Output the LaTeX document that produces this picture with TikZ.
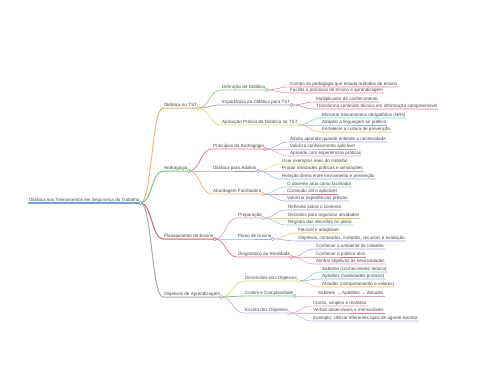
\documentclass[tikz,border=0pt]{standalone}
\usepackage{fontspec}
\setmainfont{Liberation Sans}
\usepackage{xcolor}
\usepackage{tikz}
\usetikzlibrary{calc}

\definecolor{cblue}{HTML}{6CA6E0}
\definecolor{corange}{HTML}{F5B076}
\definecolor{cgreen}{HTML}{7DC77D}
\definecolor{cbrick}{HTML}{C0696E}
\definecolor{cgray}{HTML}{ABABAB}
\definecolor{clime}{HTML}{98D28A}
\definecolor{cmauve}{HTML}{A89AB6}
\definecolor{cyellow}{HTML}{DCE27A}
\definecolor{cpink}{HTML}{E8899B}
\definecolor{crose}{HTML}{D67CA0}
\definecolor{ccyan}{HTML}{7FD6D6}
\definecolor{csky}{HTML}{8FB4E8}
\definecolor{cpeach}{HTML}{F5B96B}
\definecolor{cred}{HTML}{E07A8A}
\definecolor{cviolet}{HTML}{B8A0E0}
\definecolor{cblush}{HTML}{E8A0C8}
\definecolor{cteal}{HTML}{8CD0B8}
\definecolor{clavender}{HTML}{C4B8E0}

% curve from a parent knot to a child, then the child's underline
\newcommand{\conn}[3]{\draw[#3] let \p1=(#1.south east), \p2=(#2.south west) in
  (\p1) .. controls ({(\x1+\x2)/2},\y1) and ({(\x1+\x2)/2},\y2) .. (\p2) -- (#2.south east);}
\newcommand{\knot}[2]{\draw[#2,fill=white,line width=0.6pt] (#1.south east) circle (1.7pt);}

\begin{document}
\begin{tikzpicture}[x=1pt,y=-1pt,
  lbl/.style={anchor=south west,inner xsep=1pt,inner ysep=0.4pt,text depth=1.1pt,
    text=black!72,font=\fontsize{4.55}{5.5}\selectfont},
  e1/.style={line width=1pt},
  e2/.style={line width=0.75pt},
  e3/.style={line width=0.55pt}]
  \useasboundingbox (0,0) rectangle (480,384);

  % root and main branches
  \node[lbl] (root) at (28,203) {Didática nos Treinamentos em Segurança do Trabalho};
  \node[lbl] (dtst) at (163,108) {Didática no TST};
  \node[lbl] (andr) at (163,171) {Andragogia};
  \node[lbl] (plan) at (163,239) {Planejamento do Ensino};
  \node[lbl] (obj) at (163,297) {Objetivos de Aprendizagem};

  % Didática no TST
  \node[lbl] (def) at (221,90) {Definição de Didática};
  \node[lbl] (imp) at (221,105) {Importância da Didática para TST};
  \node[lbl] (apl) at (221,125) {Aplicação Prática da Didática no TST};
  \node[lbl] (def1) at (289,87) {Campo da pedagogia que estuda métodos de ensino};
  \node[lbl] (def2) at (289,93) {Facilita o processo de ensino e aprendizagem};
  \node[lbl] (imp1) at (315,102) {Multiplicador de conhecimento};
  \node[lbl] (imp2) at (315,109) {Transforma conteúdo técnico em informação compreensível};
  \node[lbl] (apl1) at (321,118) {Ministrar treinamentos obrigatórios (NRs)};
  \node[lbl] (apl2) at (321,125) {Adaptar a linguagem ao público};
  \node[lbl] (apl3) at (321,132) {Fortalecer a cultura de prevenção};

  % Andragogia
  \node[lbl] (pri) at (212,149) {Princípios da Andragogia};
  \node[lbl] (dad) at (212,171) {Didática para Adultos};
  \node[lbl] (abo) at (212,194) {Abordagem Facilitadora};
  \node[lbl] (pri1) at (289,142) {Adulto aprende quando entende a necessidade};
  \node[lbl] (pri2) at (289,149) {Valoriza conhecimento aplicável};
  \node[lbl] (pri3) at (289,156) {Aprende com experiências práticas};
  \node[lbl] (dad1) at (281,164) {Usar exemplos reais do trabalho};
  \node[lbl] (dad2) at (281,171) {Propor atividades práticas e simulações};
  \node[lbl] (dad3) at (281,179) {Relação direta entre treinamento e prevenção};
  \node[lbl] (abo1) at (286,187) {O docente atua como facilitador};
  \node[lbl] (abo2) at (286,194) {Conteúdo útil e aplicável};
  \node[lbl] (abo3) at (286,201) {Valorizar experiências prévias};

  % Planejamento do Ensino
  \node[lbl] (pre) at (237,218) {Preparação};
  \node[lbl] (pla) at (237,239) {Plano de Ensino};
  \node[lbl] (dia) at (237,257) {Diagnóstico da Realidade};
  \node[lbl] (pre1) at (287,210) {Reflexão sobre o contexto};
  \node[lbl] (pre2) at (287,218) {Decisões para organizar atividades};
  \node[lbl] (pre3) at (287,225) {Registro das decisões no plano};
  \node[lbl] (pla1) at (297,233) {Flexível e adaptável};
  \node[lbl] (pla2) at (297,241) {Objetivos, conteúdos, métodos, recursos e avaliação};
  \node[lbl] (dia1) at (315,249) {Conhecer o ambiente de trabalho};
  \node[lbl] (dia2) at (315,257) {Conhecer o público-alvo};
  \node[lbl] (dia3) at (315,264) {Alinhar objetivos às necessidades};

  % Objetivos de Aprendizagem
  \node[lbl] (dim) at (244,281) {Dimensões dos Objetivos};
  \node[lbl] (ord) at (244,296) {Ordem e Complexidade};
  \node[lbl] (esc) at (244,313) {Escrita dos Objetivos};
  \node[lbl] (dim1) at (321,272) {Saberes (conhecimento teórico)};
  \node[lbl] (dim2) at (321,279) {Aptidões (habilidades práticas)};
  \node[lbl] (dim3) at (321,287) {Atitudes (comportamento e valores)};
  \node[lbl] (ord1) at (317,296) {Saberes → Aptidões → Atitudes};
  \node[lbl] (esc1) at (312,306) {Claros, simples e realistas};
  \node[lbl] (esc2) at (312,313) {Verbos observáveis e mensuráveis};
  \node[lbl] (esc3) at (312,321) {Exemplo: Utilizar diferentes tipos de agente extintor};

  % connectors
  \draw[cblue,line width=1.2pt] (root.south west) -- (root.south east);
  \conn{root}{dtst}{corange,e1}
  \conn{root}{andr}{cgreen,e1}
  \conn{root}{plan}{cbrick,e1}
  \conn{root}{obj}{cgray,e1}

  \conn{dtst}{def}{clime,e2}
  \conn{dtst}{imp}{cmauve,e2}
  \conn{dtst}{apl}{cyellow,e2}
  \conn{def}{def1}{cpink,e3}
  \conn{def}{def2}{cpink,e3}
  \conn{imp}{imp1}{crose,e3}
  \conn{imp}{imp2}{crose,e3}
  \conn{apl}{apl1}{ccyan,e3}
  \conn{apl}{apl2}{csky,e3}
  \conn{apl}{apl3}{cpeach,e3}

  \conn{andr}{pri}{cred,e2}
  \conn{andr}{dad}{cmauve,e2}
  \conn{andr}{abo}{corange,e2}
  \conn{pri}{pri1}{cviolet,e3}
  \conn{pri}{pri2}{cviolet,e3}
  \conn{pri}{pri3}{cblush,e3}
  \conn{dad}{dad1}{cyellow,e3}
  \conn{dad}{dad2}{cblush,e3}
  \conn{dad}{dad3}{csky,e3}
  \conn{abo}{abo1}{cteal,e3}
  \conn{abo}{abo2}{cred,e3}
  \conn{abo}{abo3}{cviolet,e3}

  \conn{plan}{pre}{cblush,e2}
  \conn{plan}{pla}{csky,e2}
  \conn{plan}{dia}{cred,e2}
  \conn{pre}{pre1}{cviolet,e3}
  \conn{pre}{pre2}{cpeach,e3}
  \conn{pre}{pre3}{cteal,e3}
  \conn{pla}{pla1}{cpeach,e3}
  \conn{pla}{pla2}{cviolet,e3}
  \conn{dia}{dia1}{cviolet,e3}
  \conn{dia}{dia2}{cred,e3}
  \conn{dia}{dia3}{cblush,e3}

  \conn{obj}{dim}{cyellow,e2}
  \conn{obj}{ord}{cgreen,e2}
  \conn{obj}{esc}{clavender,e2}
  \conn{dim}{dim1}{ccyan,e3}
  \conn{dim}{dim2}{csky,e3}
  \conn{dim}{dim3}{cpeach,e3}
  \conn{ord}{ord1}{cblush,e3}
  \conn{esc}{esc1}{cblush,e3}
  \conn{esc}{esc2}{cpink,e3}
  \conn{esc}{esc3}{clavender,e3}

  % knots
  \knot{root}{cblue}
  \knot{dtst}{corange}
  \knot{andr}{cgreen}
  \knot{plan}{cbrick}
  \knot{obj}{cgray}
  \knot{def}{clime}
  \knot{imp}{cmauve}
  \knot{apl}{cyellow}
  \knot{pri}{cred}
  \knot{dad}{cmauve}
  \knot{abo}{corange}
  \knot{pre}{cblush}
  \knot{pla}{csky}
  \knot{dia}{cred}
  \knot{dim}{cyellow}
  \knot{ord}{cgreen}
  \knot{esc}{clavender}
\end{tikzpicture}
\end{document}
